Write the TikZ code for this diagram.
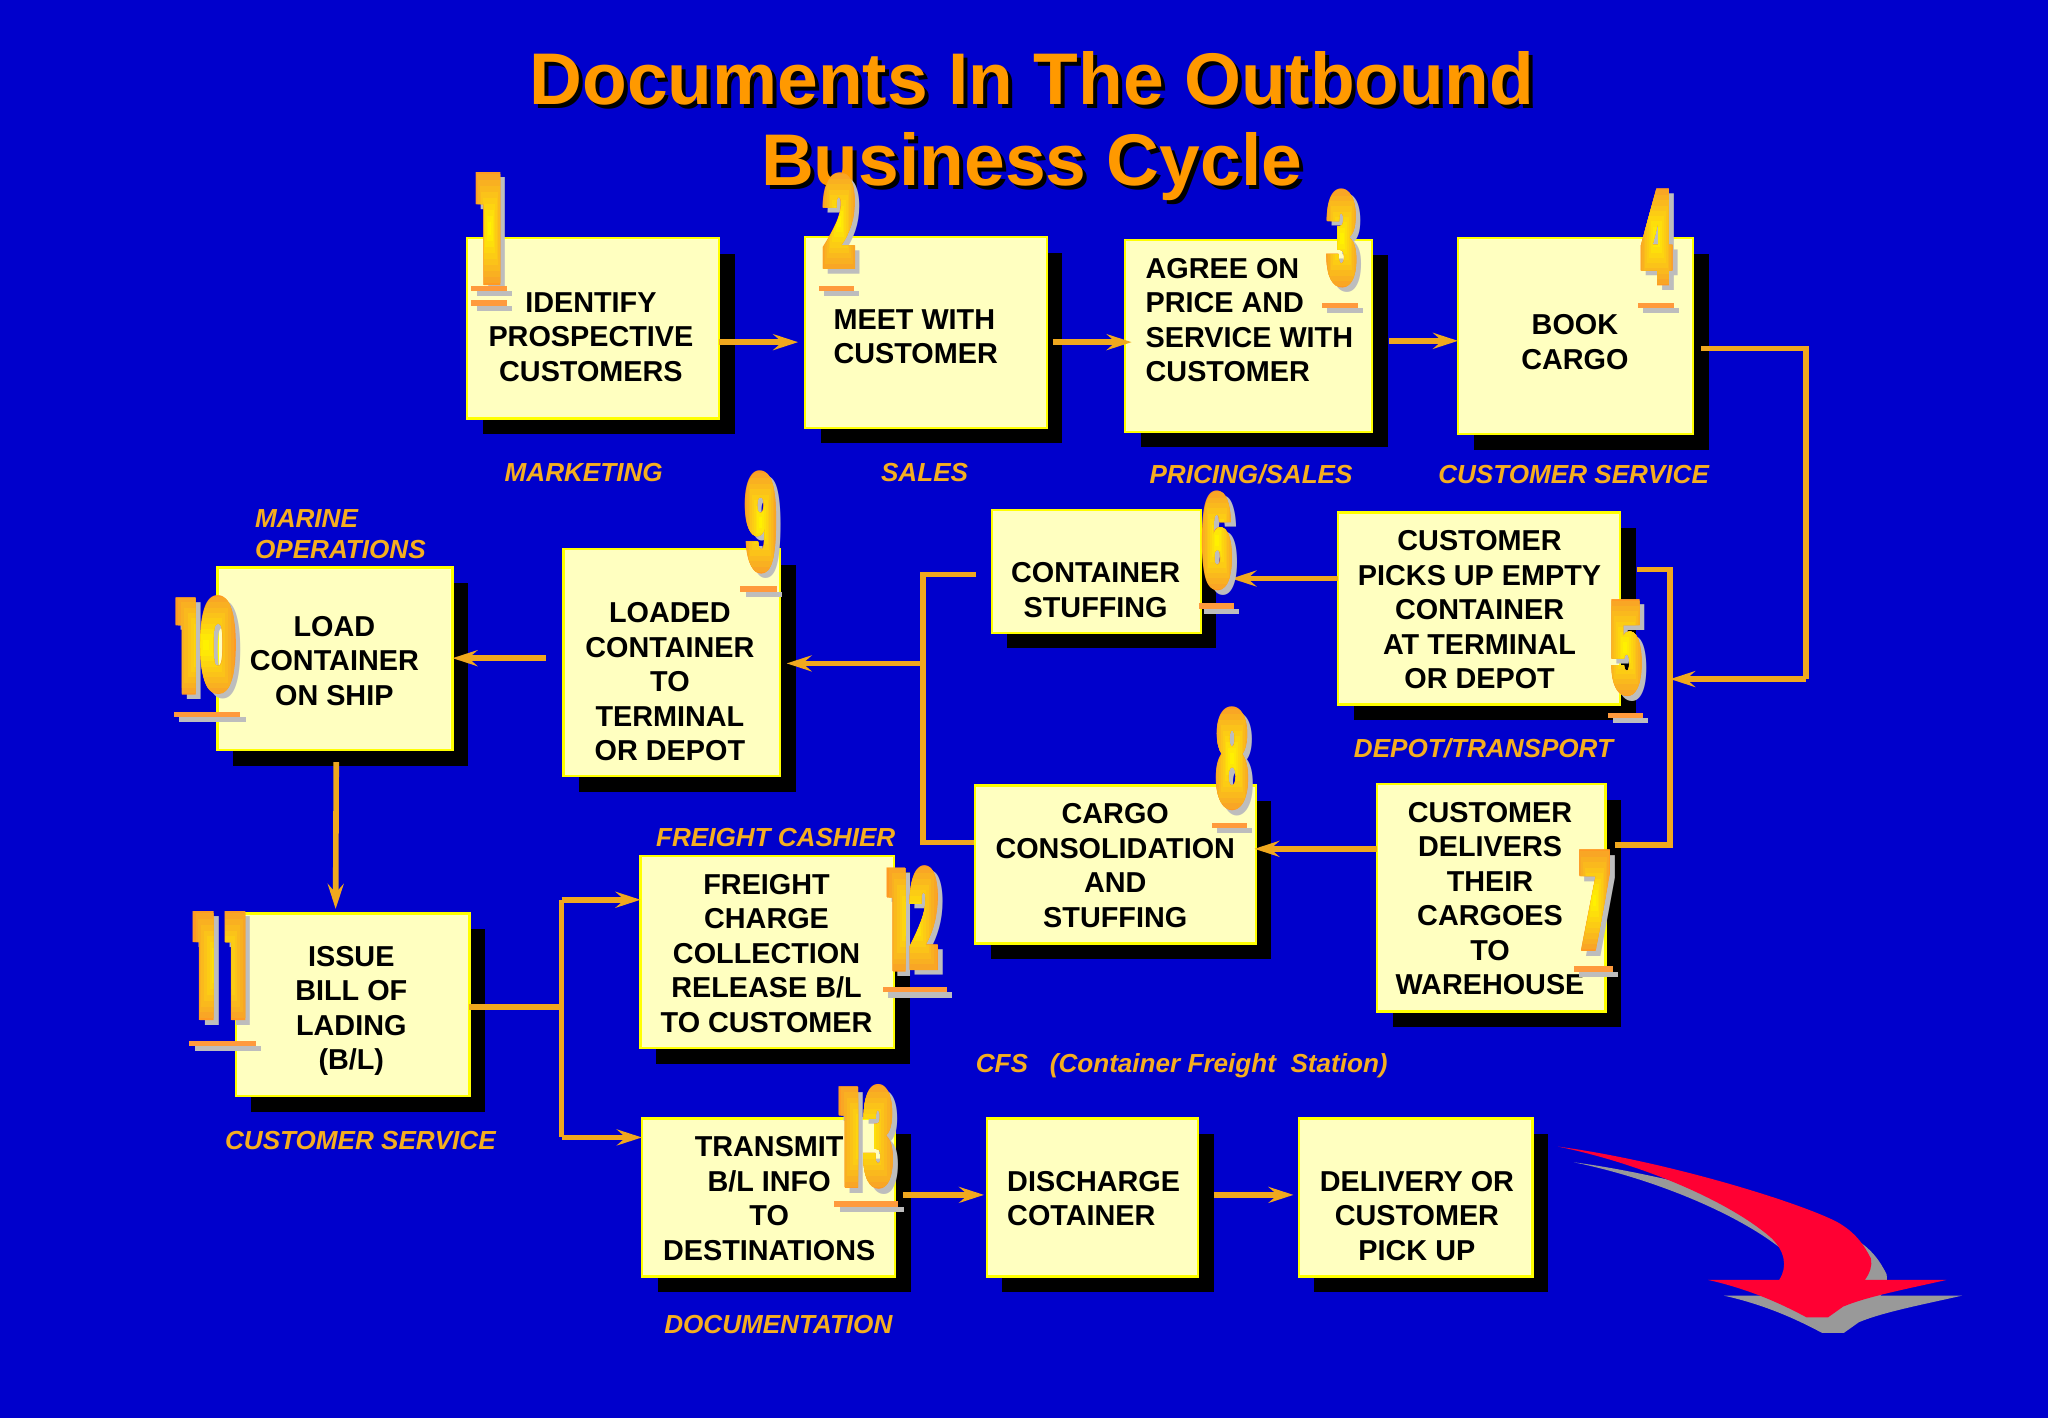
\documentclass[tikz,border=0pt]{standalone}
\usepackage{fontspec}
\setmainfont{Liberation Sans}
\newfontfamily\numf{Poppins Black}
\usetikzlibrary{arrows.meta,shadows}
\definecolor{bgblue}{HTML}{0000CC}
\definecolor{boxfill}{HTML}{FFFFC0}
\definecolor{boxline}{HTML}{FFFF00}
\definecolor{connc}{HTML}{F0A81E}
\definecolor{titlec}{HTML}{FF9900}
\definecolor{lblc}{HTML}{F5AE1F}
\definecolor{dgorange}{HTML}{FF9A22}
\definecolor{dgbarc}{HTML}{FF9A3C}
\definecolor{dggrey}{HTML}{BDBDBD}
\definecolor{redarrow}{HTML}{FF0033}
\definecolor{greyarrow}{HTML}{999999}
\newlength\uu
\setlength\uu{0.653pt}
\newlength\dgH
\newsavebox\dgbox
\tikzset{
  boxs/.style={draw=boxline,fill=boxfill,line width=1.1pt,inner sep=0pt,outer sep=0pt,
    general shadow={fill=black,shadow xshift=12\uu,shadow yshift=-12\uu}},
  txt/.style={font=\fontsize{14.4}{17.25}\selectfont\bfseries,text=black,inner sep=0pt,align=center},
  txtl/.style={txt,align=left,anchor=west},
  lbl/.style={font=\fontsize{13.05}{15.7}\selectfont\bfseries\itshape,text=lblc,inner sep=0pt,align=left},
  conn/.style={draw=connc,line width=2.8pt},
  arr/.style={conn,-{Stealth[length=12.5pt,width=8pt,inset=4.5pt,color=connc]}},
  ttl/.style={font=\fontsize{36.6}{41}\selectfont\bfseries,inner sep=0pt,anchor=base},
  dgn/.style={inner sep=0pt,outer sep=0pt}
}
\newcommand\bx[5]{\node[boxs,minimum width=\numexpr#4-#2-1\relax\uu,minimum height=\numexpr#5-#3-1\relax\uu] (#1) at ({(#2+#4)/2},{(#3+#5)/2}) {};}
% digit font: #1 = height in picture units, #2 = horizontal stretch
\newcommand\dgfont[2]{\numf\fontsize{\the\dimexpr0.92pt*#1\relax}{\the\dimexpr0.92pt*#1\relax}\selectfont\addfontfeatures{FakeStretch=#2}}
% text used as a clip, painted with nested rectangles from orange to yellow
\newcommand\gradtxt[3]{%
 \sbox\dgbox{\dgfont{#1}{#2}#3}%
 \setlength\dgH{\dimexpr\ht\dgbox+\dp\dgbox+4pt\relax}%
 \special{pdf:bcontent}\special{pdf:code 7 Tr}%
 \usebox\dgbox
 \special{pdf:code 0 Tr}%
 \kern-\wd\dgbox
 \foreach \k in {0,...,9}{%
  \pgfmathtruncatemacro\pp{\k*11}%
  \rlap{\kern\dimexpr\wd\dgbox*\k/20\relax\raise\dimexpr-\dp\dgbox-2pt+\dgH*\k/20\relax\hbox{\color{yellow!\pp!dgorange}\vrule width \dimexpr\wd\dgbox*\numexpr20-2*\k\relax/20\relax height \dimexpr\dgH*\numexpr20-2*\k\relax/20\relax depth 0pt}}}%
 \kern\wd\dgbox
 \special{pdf:econtent}}
\newcommand\dg[7]{%
\node[dgn,text=dggrey] (#1s) at ({(#2+#4)/2+4},{(#3+#5)/2+4}) {\dgfont{\numexpr#5-#3\relax}{#7}#6};
\node[dgn,text=dgorange] (#1) at ({(#2+#4)/2},{(#3+#5)/2}) {\dgfont{\numexpr#5-#3\relax}{#7}#6};
\node[dgn] (#1g) at ({(#2+#4)/2},{(#3+#5)/2}) {\gradtxt{\numexpr#5-#3\relax}{#7}{#6}};}
\newcommand\dgbar[3]{%
\fill[dggrey] (#1+4,#3+4) rectangle (#2+4,#3+8);
\fill[dgbarc] (#1,#3) rectangle (#2,#3+4);}
\newcommand\redpath{(175,140) .. controls (480,180) and (880,300) .. (1010,365)
 .. controls (1070,398) and (1095,440) .. (1113,475)
 .. controls (1118,500) and (1110,520) .. (1095,540) -- (1340,540)
 .. controls (1230,565) and (1100,590) .. (1030,620) -- (985,652) -- (920,652)
 .. controls (860,620) and (760,570) .. (625,540) -- (838,540)
 .. controls (865,500) and (855,450) .. (810,410)
 .. controls (680,300) and (420,190) .. (175,140) -- cycle}
\begin{document}
\begin{tikzpicture}[x=0.653pt,y=-0.653pt]
\useasboundingbox (0,0) rectangle (1568.3,1085.8);
\fill[bgblue] (0,0) rectangle (1568.3,1085.8);
% title
\node[ttl,text=black] (t1s) at (793,83) {Documents In The Outbound};
\node[ttl,text=black] (t2s) at (793,145) {Business Cycle};
\node[ttl,text=titlec] (t1) at (790,80) {Documents In The Outbound};
\node[ttl,text=titlec] (t2) at (790,142) {Business Cycle};
% boxes
\bx{b1}{357}{182}{551}{321}
\bx{b2}{616}{181}{802}{328}
\bx{b3}{861}{183}{1051}{331}
\bx{b4}{1116}{182}{1297}{333}
\bx{b5}{1024}{392}{1241}{540}
\bx{b6}{759}{390}{920}{485}
\bx{b7}{1054}{600}{1230}{775}
\bx{b8}{746}{601}{962}{723}
\bx{b9}{431}{420}{598}{595}
\bx{b10}{166}{434}{347}{575}
\bx{b11}{180}{699}{360}{840}
\bx{b12}{490}{655}{685}{803}
\bx{b13}{491}{856}{686}{978}
\bx{b14}{755}{856}{918}{978}
\bx{b15}{994}{856}{1174}{978}
% box texts
\node[txt] (x1) at (452.5,258) {IDENTIFY\\PROSPECTIVE\\CUSTOMERS};
\node[txtl] (x2) at (638,258) {MEET WITH\\CUSTOMER};
\node[txtl] (x3) at (877,245) {AGREE ON\\PRICE AND\\SERVICE WITH\\CUSTOMER};
\node[txt] (x4) at (1206,262) {BOOK\\CARGO};
\node[txt] (x5) at (1133,467) {CUSTOMER\\PICKS UP EMPTY\\CONTAINER\\AT TERMINAL\\OR DEPOT};
\node[txt] (x6) at (839,452) {CONTAINER\\STUFFING};
\node[txt] (x7) at (1141,688) {CUSTOMER\\DELIVERS\\THEIR\\CARGOES\\TO\\WAREHOUSE};
\node[txt] (x8) at (854,663) {CARGO\\CONSOLIDATION\\AND\\STUFFING};
\node[txt] (x9) at (513,522) {LOADED\\CONTAINER\\TO\\TERMINAL\\OR DEPOT};
\node[txt] (x10) at (256,506) {LOAD\\CONTAINER\\ON SHIP};
\node[txt] (x11) at (269,774) {ISSUE\\BILL OF\\LADING\\(B/L)};
\node[txt] (x12) at (587,730) {FREIGHT\\CHARGE\\COLLECTION\\RELEASE B/L\\TO CUSTOMER};
\node[txt] (x13) at (589,918) {TRANSMIT\\B/L INFO\\TO\\DESTINATIONS};
\node[txtl] (x14) at (771,918) {DISCHARGE\\COTAINER};
\node[txt] (x15) at (1085,931) {DELIVERY OR\\CUSTOMER\\PICK UP};
% labels
\node[lbl] (l1) at (447,362) {MARKETING};
\node[lbl] (l2) at (708,362) {SALES};
\node[lbl] (l3) at (958,363) {PRICING/SALES};
\node[lbl] (l4) at (1205,363) {CUSTOMER SERVICE};
\node[lbl,anchor=west] (l5) at (195,409) {MARINE\\OPERATIONS};
\node[lbl] (l6) at (1136,573) {DEPOT/TRANSPORT};
\node[lbl] (l7) at (594,641) {FREIGHT CASHIER};
\node[lbl,anchor=west] (l8) at (747,816) {CFS\ \ \ (Container Freight\ \ Station)};
\node[lbl] (l9) at (276,873) {CUSTOMER SERVICE};
\node[lbl] (l10) at (596,1014) {DOCUMENTATION};
% junctions
\coordinate (j1) at (1383,267);
\coordinate (j2) at (1383,520);
\coordinate (j3) at (1279,436);
\coordinate (j4) at (1279,647);
\coordinate (j5) at (707,440);
\coordinate (j6) at (707,645);
\coordinate (j7) at (707,508);
\coordinate (j8) at (430,771);
\coordinate (j9) at (430,689);
\coordinate (j10) at (430,871);
\coordinate (y12) at (0,262);
\coordinate (y34) at (0,261);
\coordinate (y56) at (0,443);
\coordinate (y78) at (0,650);
\coordinate (y910) at (0,504);
\coordinate (y1314) at (0,915);
% connectors
\draw[arr,shorten >=3.5pt] (b1.east |- y12) -- (b2.west |- y12);
\draw[arr,shorten <=3.3pt,shorten >=-3.3pt] (b2.east |- y12) -- (b3.west |- y12);
\draw[arr,shorten <=8.5pt] (b3.east |- y34) -- (b4.west |- y34);
\draw[conn,shorten <=3.9pt] (b4.east |- j1) -- (j1) -- (j2);
\draw[arr] (j2) -- (j4 |- j2);
\draw[conn,shorten <=8.5pt] (b5.east |- j3) -- (j3) -- (j4) -- ([xshift=4.6pt]b7.east |- j4);
\draw[arr] (b5.west |- y56) -- (943,443);
\draw[arr,shorten >=-0.6pt] (b7.west |- y78) -- (b8.east |- y78);
\draw[conn] ([xshift=-7.8pt]b6.west |- j5) -- (j5) -- (j6) -- ([xshift=-0.6pt]b8.west |- j6);
\draw[arr] (j7) -- ([xshift=3.2pt]b9.east |- j7);
\draw[arr] (418,504) -- (b10.east |- y910);
\draw[arr] ([yshift=-5.9pt]b10.south) ++(1,0) -- (257,696);
\draw[conn] (b11.east |- j8) -- (j8);
\draw[conn] (j9) -- (j10);
\draw[arr] (j9) -- (b12.west |- j9);
\draw[arr] (j10) -- (b13.west |- j10);
\draw[arr,shorten <=3.9pt,shorten >=1.3pt] (b13.east |- y1314) -- (b14.west |- y1314);
\draw[arr,shorten <=7.8pt,shorten >=2.6pt] (b14.east |- y1314) -- (b15.west |- y1314);
% numbers
\dg{n1}{362}{133}{388}{217}{1}{0.46}\dgbar{361}{388}{219}\dgbar{361}{388}{230}
\dg{n2}{628}{134}{657}{205}{2}{0.47}\dgbar{627}{654}{219}
\dg{n3}{1014}{147}{1041}{218}{3}{0.435}\dgbar{1012}{1040}{232}
\dg{n4}{1255}{145}{1282}{218}{4}{0.39}\dgbar{1254}{1282}{232}
\dg{n5}{1231}{460}{1258}{532}{5}{0.43}\dgbar{1231}{1258}{546}
\dg{n6}{919}{378}{945}{450}{6}{0.41}\dgbar{918}{945}{462}
\dg{n7}{1206}{652}{1236}{727}{7}{0.46}\dgbar{1205}{1235}{740}
\dg{n8}{930}{544}{957}{618}{8}{0.42}\dgbar{928}{955}{630}
\dg{n9}{569}{363}{596}{437}{9}{0.42}\dgbar{567}{595}{449}
\dg{n10}{133}{458}{183}{530}{10}{0.445}\dgbar{133}{184}{545}
\dg{n11}{145}{699}{193}{780}{1\kern4pt 1}{0.40}\dgbar{145}{196}{797}
\dg{n12}{676}{665}{722}{742}{12}{0.385}\dgbar{676}{725}{756}
\dg{n13}{640}{833}{688}{908}{13}{0.41}\dgbar{639}{688}{920}
% red arrow
\begin{scope}[shift={(1148.5,842.3)},x=0.16667pt,y=-0.16667pt]
\fill[greyarrow,shift={(47,47)}] \redpath;
\fill[redarrow] \redpath;
\end{scope}
\end{tikzpicture}
\end{document}
